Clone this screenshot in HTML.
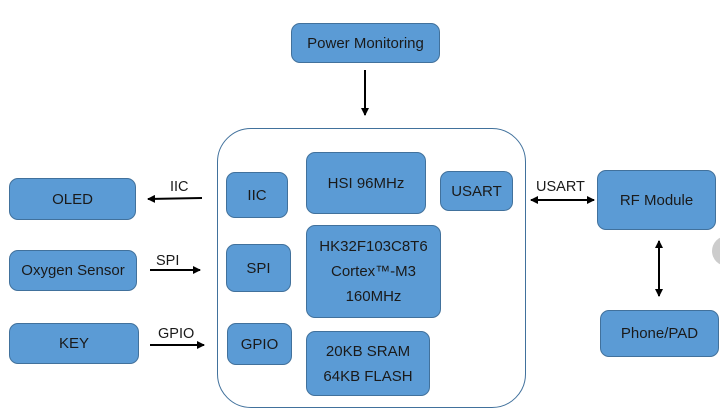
<!DOCTYPE html>
<html><head><meta charset="utf-8"><style>
body{margin:0;width:720px;height:420px;background:#fff;position:relative;overflow:hidden;font-family:"Liberation Sans",sans-serif;}
.b{position:absolute;box-sizing:border-box;background:#5b9bd5;border:1.5px solid #41719c;border-radius:9px;display:flex;align-items:center;justify-content:center;text-align:center;font-size:15px;color:#1a1a1a;line-height:25px;}
.t{position:absolute;font-size:14.5px;color:#1a1a1a;}
</style></head><body>
<div style="position:absolute;left:217px;top:128px;width:309px;height:280px;border:1.5px solid #41719c;border-radius:34px;box-sizing:border-box"></div>
<div class="b" style="left:291px;top:23px;width:149px;height:40px">Power Monitoring</div>
<div class="b" style="left:226px;top:172px;width:62px;height:46px">IIC</div>
<div class="b" style="left:226px;top:244px;width:65px;height:48px">SPI</div>
<div class="b" style="left:227px;top:323px;width:65px;height:42px">GPIO</div>
<div class="b" style="left:306px;top:152px;width:120px;height:62px">HSI 96MHz</div>
<div class="b" style="left:440px;top:171px;width:73px;height:40px">USART</div>
<div class="b" style="left:306px;top:225px;width:135px;height:93px">HK32F103C8T6<br>Cortex™-M3<br>160MHz</div>
<div class="b" style="left:306px;top:331px;width:124px;height:65px">20KB SRAM<br>64KB FLASH</div>
<div class="b" style="left:9px;top:178px;width:127px;height:42px">OLED</div>
<div class="b" style="left:9px;top:250px;width:128px;height:41px">Oxygen Sensor</div>
<div class="b" style="left:9px;top:323px;width:130px;height:41px">KEY</div>
<div class="b" style="left:597px;top:170px;width:119px;height:60px">RF Module</div>
<div class="b" style="left:600px;top:310px;width:119px;height:47px">Phone/PAD</div>
<div style="position:absolute;left:712px;top:236px;width:30px;height:30px;border-radius:50%;background:#ccc"></div>
<div class="t" style="left:170px;top:179px">IIC</div>
<div class="t" style="left:156px;top:253px">SPI</div>
<div class="t" style="left:158px;top:326px">GPIO</div>
<div class="t" style="left:536px;top:179px">USART</div>
<svg width="720" height="420" style="position:absolute;left:0;top:0">
<defs><marker id="a" markerWidth="8" markerHeight="8" refX="7" refY="4" orient="auto-start-reverse" markerUnits="userSpaceOnUse"><path d="M0,0L8,4L0,8z" fill="#000"/></marker></defs>
<g stroke="#000" stroke-width="2">
<line x1="365" y1="70" x2="365" y2="115" marker-end="url(#a)"/>
<line x1="202" y1="198" x2="148" y2="199" marker-end="url(#a)"/>
<line x1="150" y1="270" x2="200" y2="270" marker-end="url(#a)"/>
<line x1="150" y1="345" x2="204" y2="345" marker-end="url(#a)"/>
<line x1="531" y1="200" x2="594" y2="200" marker-start="url(#a)" marker-end="url(#a)"/>
<line x1="659" y1="241" x2="659" y2="296" marker-start="url(#a)" marker-end="url(#a)"/>
</g></svg>
</body></html>
